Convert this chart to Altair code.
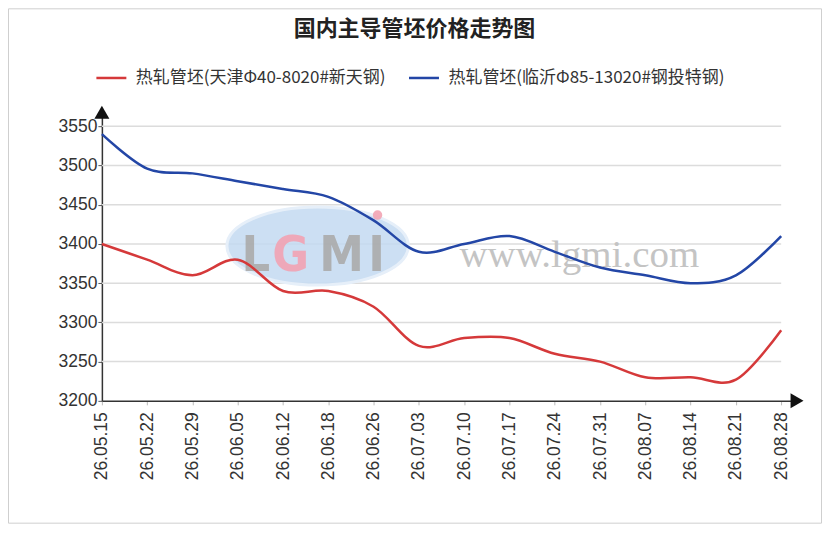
import altair as alt
import pandas as pd

# ---- data ----
dates = ["26.05.15", "26.05.22", "26.05.29", "26.06.05", "26.06.12", "26.06.18",
         "26.06.26", "26.07.03", "26.07.10", "26.07.17", "26.07.24", "26.07.31",
         "26.08.07", "26.08.14", "26.08.21", "26.08.28"]
series_names = ["热轧管坯(天津Φ40-8020#新天钢)", "热轧管坯(临沂Φ85-13020#钢投特钢)"]
tianjin = [3400, 3380, 3360, 3380, 3340, 3340, 3320, 3270, 3280, 3280, 3260, 3250,
           3230, 3230, 3227, 3290]
linyi = [3540, 3496, 3490, 3480, 3470, 3460, 3430, 3390, 3400, 3410, 3390, 3370,
         3360, 3350, 3360, 3410]
y_ticks = [3200, 3250, 3300, 3350, 3400, 3450, 3500, 3550]
title_text = "国内主导管坯价格走势图"
colors = ["#d5393a", "#2346a6"]

rows = []
for idx, d in enumerate(dates):
    rows.append({"i": idx, "date": d, "series": series_names[0], "v": tianjin[idx]})
    rows.append({"i": idx, "date": d, "series": series_names[1], "v": linyi[idx]})
df = pd.DataFrame(rows)

X_END = 15.35
Y_MIN, Y_TOP = 3200, 3568
W, H = 696, 289

label_expr = "[" + ",".join("'%s'" % d for d in dates) + "][datum.value]"

xscale = alt.Scale(domain=[0, X_END], nice=False, zero=False)
yscale = alt.Scale(domain=[Y_MIN, Y_TOP], nice=False, zero=False)

one = alt.Data(values=[{}])

# border around whole chart
border = alt.Chart(one).mark_rect(fillOpacity=0, stroke="#cfcfcf", strokeWidth=1).encode(
    x=alt.value(-93.5), x2=alt.value(W + 24.5), y=alt.value(-103.5), y2=alt.value(H + 122.5)
)

# gridlines
grid_df = pd.DataFrame({"v": y_ticks[1:]})
grid = alt.Chart(grid_df).mark_rule(color="#dcdcdc", strokeWidth=1.5).encode(
    x=alt.datum(0, scale=xscale), x2=alt.datum(len(dates) - 1),
    y=alt.Y("v:Q", scale=yscale)
)

# watermark
ellipse = alt.Chart(one).mark_point(
    shape="M-1,0A1,0.43,0,1,1,1,0A1,0.43,0,1,1,-1,0Z",
    filled=True, fill="#c3d9f1", fillOpacity=0.85, stroke="#e6eff9", strokeWidth=3,
    size=33000
).encode(x=alt.value(216), y=alt.value(134))

def letter(ch, px, col):
    return alt.Chart(one).mark_text(
        text=ch, font="DejaVu Sans Condensed, Liberation Sans Narrow, DejaVu Sans",
        fontWeight="bold", fontSize=50, color=col,
        opacity=0.9, align="center", baseline="alphabetic"
    ).encode(x=alt.value(px), y=alt.value(159))

logo = [letter("L", 154, "#ababab"), letter("G", 189, "#f2a3b3"),
        letter("M", 240, "#ababab"), letter("I", 275, "#ababab")]
dot = alt.Chart(one).mark_point(filled=True, color="#f2a3b3", size=90, opacity=0.9).encode(
    x=alt.value(276), y=alt.value(103))
www = alt.Chart(one).mark_text(
    text="www.lgmi.com", font="Liberation Serif", fontSize=39, color="#c4c4c4",
    align="center", baseline="alphabetic"
).encode(x=alt.value(478), y=alt.value(155))

# data lines
lines = alt.Chart(df).mark_line(interpolate="cardinal", strokeWidth=2.5).encode(
    x=alt.X("i:Q", scale=xscale, title=None,
            axis=alt.Axis(values=list(range(len(dates))), labelExpr=label_expr,
                          labelAngle=-90, labelFont="Liberation Sans", labelFontSize=17.5,
                          labelColor="#333", labelPadding=7, tickColor="#bbbbbb",
                          tickSize=4, domainColor="#333", domainWidth=1.5, grid=False)),
    y=alt.Y("v:Q", scale=yscale, title=None,
            axis=alt.Axis(values=y_ticks, format="d", labelFont="Liberation Sans",
                          labelFontSize=17.5, labelColor="#333", labelPadding=1,
                          tickColor="#555", tickSize=4, domainColor="#333",
                          domainWidth=1.5, grid=False)),
    color=alt.Color("series:N", scale=alt.Scale(domain=series_names, range=colors),
                    sort=series_names,
                    legend=alt.Legend(title=None, orient="none", legendX=-7, legendY=-51,
                                      direction="horizontal", symbolType="stroke",
                                      symbolSize=900, symbolStrokeWidth=2.5,
                                      labelFont="Noto Sans CJK SC", labelFontSize=17,
                                      labelColor="#333", labelLimit=500, labelOffset=8,
                                      columnPadding=17)),
    detail="series:N",
)

# axis arrowheads
arrow_x = alt.Chart(one).mark_point(shape="triangle-right", filled=True, color="#111",
                                     size=225, opacity=1).encode(
    x=alt.datum(X_END), y=alt.datum(Y_MIN))
arrow_y = alt.Chart(one).mark_point(shape="triangle-up", filled=True, color="#111",
                                     size=225, opacity=1).encode(
    x=alt.datum(0), y=alt.datum(Y_TOP))

chart = alt.layer(border, grid, ellipse, *logo, dot, www, lines, arrow_x, arrow_y).properties(
    width=W, height=H,
    title=alt.TitleParams(title_text, font="Noto Sans CJK SC", fontSize=22, fontWeight="bold",
                          color="#222", anchor="middle", frame="group", dx=-35, offset=-33),
    padding={"left": 94, "right": 25, "top": 104, "bottom": 123},
    autosize=alt.AutoSizeParams(type="none"),
    background="white",
).configure_view(stroke=None)

chart.save("out.html", embed_options={"renderer": "svg", "actions": False})
